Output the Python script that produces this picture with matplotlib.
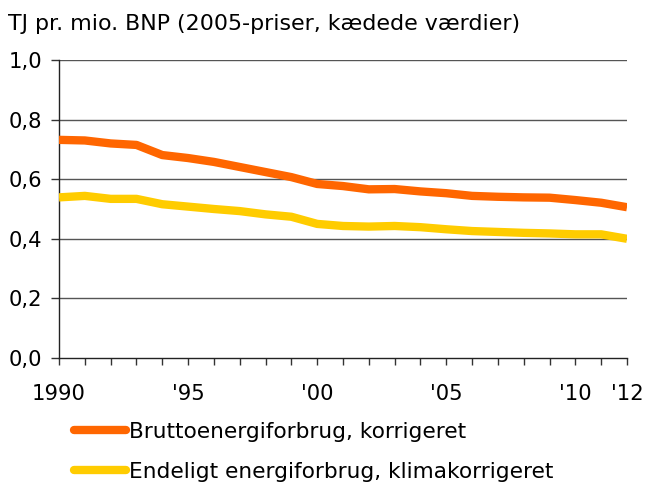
import matplotlib
matplotlib.use("Agg")
import matplotlib.pyplot as plt
from matplotlib.ticker import FixedLocator, MultipleLocator

years = list(range(1990, 2013))
brutto = [0.732, 0.730, 0.720, 0.715, 0.681, 0.671, 0.658, 0.641, 0.624, 0.607,
          0.584, 0.577, 0.566, 0.567, 0.559, 0.553, 0.544, 0.541, 0.539, 0.538,
          0.530, 0.521, 0.506]
endeligt = [0.539, 0.544, 0.534, 0.534, 0.516, 0.508, 0.500, 0.493, 0.482, 0.474,
            0.450, 0.443, 0.441, 0.443, 0.439, 0.432, 0.426, 0.423, 0.420, 0.418,
            0.415, 0.415, 0.400]
series_names = ["Bruttoenergiforbrug, korrigeret", "Endeligt energiforbrug, klimakorrigeret"]
xtick_pos = [1990, 1995, 2000, 2005, 2010, 2012]
xtick_labels = ["1990", "'95", "'00", "'05", "'10", "'12"]
ytick_pos = [0.0, 0.2, 0.4, 0.6, 0.8, 1.0]
ytick_labels = ["0,0", "0,2", "0,4", "0,6", "0,8", "1,0"]
title = "TJ pr. mio. BNP (2005-priser, kædede værdier)"

FS = 15.2
plt.rcParams['font.family'] = ['DejaVu Sans']
fig = plt.figure(figsize=(6.45, 4.84), dpi=100)
ax = fig.add_axes([59/645, 1-358/484, (627-59)/645, (358-60)/484])

ax.plot(years, brutto, color="#FF6600", lw=6, solid_capstyle='butt', label=series_names[0], zorder=3)
ax.plot(years, endeligt, color="#FFCC00", lw=6, solid_capstyle='butt', label=series_names[1], zorder=3)

ax.set_xlim(1990, 2012)
ax.set_ylim(0, 1.0)
ax.set_yticks(ytick_pos)
ax.set_yticklabels(ytick_labels, fontsize=FS)
ax.xaxis.set_major_locator(FixedLocator(xtick_pos))
ax.set_xticklabels(xtick_labels, fontsize=FS)
ax.xaxis.set_minor_locator(MultipleLocator(1))
ax.tick_params(axis='x', which='both', direction='out', length=5, width=1, color='#333333', pad=14)
ax.tick_params(axis='y', direction='out', length=6, width=1, color='#333333', pad=6)
for y in ytick_pos[1:]:
    ax.axhline(y, color="#555555", lw=1, zorder=1)
for s in ['top', 'right']:
    ax.spines[s].set_visible(False)
for s in ['left', 'bottom']:
    ax.spines[s].set_color('#222222')
    ax.spines[s].set_linewidth(1)

fig.text(8/645, 1-24/484, title, fontsize=15.9, va='center', ha='left')

leg = fig.legend(loc='upper left', bbox_to_anchor=(74/645, 1-422/484), frameon=False,
                 fontsize=15.6, handlelength=2.4, handletextpad=0.12, labelspacing=0.9,
                 borderaxespad=0, borderpad=0)
for ln in leg.get_lines():
    ln.set_solid_capstyle('round')

fig.savefig("out.png", dpi=100)
